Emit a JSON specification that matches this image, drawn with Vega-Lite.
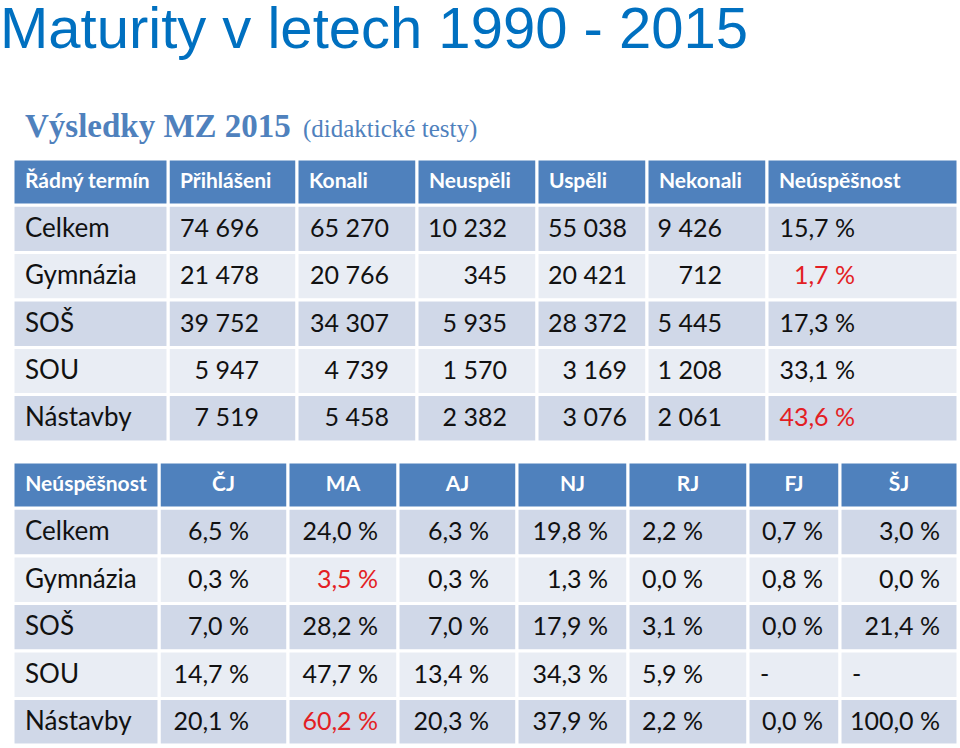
{
  "$schema": "https://vega.github.io/schema/vega-lite/v6.json",
  "width": 960,
  "height": 748,
  "padding": 0,
  "autosize": {"type": "none"},
  "background": "white",
  "config": {
    "view": {"stroke": null},
    "axis": {"disable": true},
    "locale": {"number": {"decimal": ",", "thousands": "\u00a0", "grouping": [3], "currency": ["", "\u00a0Kč"], "percent": "\u00a0%"}}
  },
  "datasets": {
    "nadpisy": [
      {"cast": "hlavni", "text": "Maturity v letech 1990 - 2015"},
      {"cast": "tucne", "text": "Výsledky MZ 2015"},
      {"cast": "zavorka", "text": "(didaktické testy)"}
    ],
    "souhrn": [
      {"skupina": "Celkem", "sloupec": "Přihlášeni", "v": 74696},
      {"skupina": "Celkem", "sloupec": "Konali", "v": 65270},
      {"skupina": "Celkem", "sloupec": "Neuspěli", "v": 10232},
      {"skupina": "Celkem", "sloupec": "Uspěli", "v": 55038},
      {"skupina": "Celkem", "sloupec": "Nekonali", "v": 9426},
      {"skupina": "Celkem", "sloupec": "Neúspěšnost", "v": 0.157},
      {"skupina": "Gymnázia", "sloupec": "Přihlášeni", "v": 21478},
      {"skupina": "Gymnázia", "sloupec": "Konali", "v": 20766},
      {"skupina": "Gymnázia", "sloupec": "Neuspěli", "v": 345},
      {"skupina": "Gymnázia", "sloupec": "Uspěli", "v": 20421},
      {"skupina": "Gymnázia", "sloupec": "Nekonali", "v": 712},
      {"skupina": "Gymnázia", "sloupec": "Neúspěšnost", "v": 0.017, "zv": true},
      {"skupina": "SOŠ", "sloupec": "Přihlášeni", "v": 39752},
      {"skupina": "SOŠ", "sloupec": "Konali", "v": 34307},
      {"skupina": "SOŠ", "sloupec": "Neuspěli", "v": 5935},
      {"skupina": "SOŠ", "sloupec": "Uspěli", "v": 28372},
      {"skupina": "SOŠ", "sloupec": "Nekonali", "v": 5445},
      {"skupina": "SOŠ", "sloupec": "Neúspěšnost", "v": 0.173},
      {"skupina": "SOU", "sloupec": "Přihlášeni", "v": 5947},
      {"skupina": "SOU", "sloupec": "Konali", "v": 4739},
      {"skupina": "SOU", "sloupec": "Neuspěli", "v": 1570},
      {"skupina": "SOU", "sloupec": "Uspěli", "v": 3169},
      {"skupina": "SOU", "sloupec": "Nekonali", "v": 1208},
      {"skupina": "SOU", "sloupec": "Neúspěšnost", "v": 0.331},
      {"skupina": "Nástavby", "sloupec": "Přihlášeni", "v": 7519},
      {"skupina": "Nástavby", "sloupec": "Konali", "v": 5458},
      {"skupina": "Nástavby", "sloupec": "Neuspěli", "v": 2382},
      {"skupina": "Nástavby", "sloupec": "Uspěli", "v": 3076},
      {"skupina": "Nástavby", "sloupec": "Nekonali", "v": 2061},
      {"skupina": "Nástavby", "sloupec": "Neúspěšnost", "v": 0.436, "zv": true}
    ],
    "predmety": [
      {"skupina": "Celkem", "sloupec": "ČJ", "v": 0.065},
      {"skupina": "Celkem", "sloupec": "MA", "v": 0.240},
      {"skupina": "Celkem", "sloupec": "AJ", "v": 0.063},
      {"skupina": "Celkem", "sloupec": "NJ", "v": 0.198},
      {"skupina": "Celkem", "sloupec": "RJ", "v": 0.022},
      {"skupina": "Celkem", "sloupec": "FJ", "v": 0.007},
      {"skupina": "Celkem", "sloupec": "ŠJ", "v": 0.030},
      {"skupina": "Gymnázia", "sloupec": "ČJ", "v": 0.003},
      {"skupina": "Gymnázia", "sloupec": "MA", "v": 0.035, "zv": true},
      {"skupina": "Gymnázia", "sloupec": "AJ", "v": 0.003},
      {"skupina": "Gymnázia", "sloupec": "NJ", "v": 0.013},
      {"skupina": "Gymnázia", "sloupec": "RJ", "v": 0.0},
      {"skupina": "Gymnázia", "sloupec": "FJ", "v": 0.008},
      {"skupina": "Gymnázia", "sloupec": "ŠJ", "v": 0.0},
      {"skupina": "SOŠ", "sloupec": "ČJ", "v": 0.070},
      {"skupina": "SOŠ", "sloupec": "MA", "v": 0.282},
      {"skupina": "SOŠ", "sloupec": "AJ", "v": 0.070},
      {"skupina": "SOŠ", "sloupec": "NJ", "v": 0.179},
      {"skupina": "SOŠ", "sloupec": "RJ", "v": 0.031},
      {"skupina": "SOŠ", "sloupec": "FJ", "v": 0.0},
      {"skupina": "SOŠ", "sloupec": "ŠJ", "v": 0.214},
      {"skupina": "SOU", "sloupec": "ČJ", "v": 0.147},
      {"skupina": "SOU", "sloupec": "MA", "v": 0.477},
      {"skupina": "SOU", "sloupec": "AJ", "v": 0.134},
      {"skupina": "SOU", "sloupec": "NJ", "v": 0.343},
      {"skupina": "SOU", "sloupec": "RJ", "v": 0.059},
      {"skupina": "SOU", "sloupec": "FJ", "v": null},
      {"skupina": "SOU", "sloupec": "ŠJ", "v": null},
      {"skupina": "Nástavby", "sloupec": "ČJ", "v": 0.201},
      {"skupina": "Nástavby", "sloupec": "MA", "v": 0.602, "zv": true},
      {"skupina": "Nástavby", "sloupec": "AJ", "v": 0.203},
      {"skupina": "Nástavby", "sloupec": "NJ", "v": 0.379},
      {"skupina": "Nástavby", "sloupec": "RJ", "v": 0.022},
      {"skupina": "Nástavby", "sloupec": "FJ", "v": 0.0},
      {"skupina": "Nástavby", "sloupec": "ŠJ", "v": 1.0}
    ]
  },
  "layer": [
    {
      "data": {"name": "nadpisy"},
      "transform": [{"calculate": "indexof(['hlavni','tucne','zavorka'], datum.cast)", "as": "k"}],
      "encoding": {
        "x": {"field": "k", "type": "quantitative", "scale": {"domain": [0, 1, 2], "range": [0, 25, 303], "nice": false, "zero": false}},
        "y": {"field": "k", "type": "quantitative", "scale": {"domain": [0, 1, 2], "range": [48, 137, 137], "nice": false, "zero": false}},
        "text": {"field": "text"}
      },
      "layer": [
        {"transform": [{"filter": "datum.cast == 'hlavni'"}], "mark": {"type": "text", "font": "Liberation Sans", "fontSize": 58, "color": "#0070C0", "align": "left", "baseline": "alphabetic"}},
        {"transform": [{"filter": "datum.cast == 'tucne'"}], "mark": {"type": "text", "font": "Liberation Serif", "fontSize": 33, "fontWeight": "bold", "color": "#4F81BD", "align": "left", "baseline": "alphabetic"}},
        {"transform": [{"filter": "datum.cast == 'zavorka'"}], "mark": {"type": "text", "font": "Liberation Serif", "fontSize": 25, "fontWeight": "normal", "color": "#4F81BD", "align": "left", "baseline": "alphabetic"}}
      ]
    },
    {
      "data": {"name": "souhrn"},
      "transform": [
        {"calculate": "indexof(['Přihlášeni','Konali','Neuspěli','Uspěli','Nekonali','Neúspěšnost'], datum.sloupec) + 1", "as": "c"},
        {"calculate": "datum.c + 1", "as": "c1"},
        {"calculate": "indexof(['Celkem','Gymnázia','SOŠ','SOU','Nástavby'], datum.skupina) + 1", "as": "r"},
        {"calculate": "datum.r + 1", "as": "r1"},
        {"calculate": "datum.r + 0.5", "as": "rm"}
      ],
      "layer": [
        {
          "layer": [
            {
              "mark": {"type": "rect", "stroke": "white", "strokeWidth": 3},
              "encoding": {
                "x": {"field": "c", "type": "quantitative", "scale": {"domain": [0, 1, 2, 3, 4, 5, 6, 7], "range": [13, 168, 297, 417, 537, 647, 767, 958], "nice": false, "zero": false}},
                "x2": {"field": "c1"},
                "y": {"field": "r", "type": "quantitative", "scale": {"domain": [0, 1, 2, 3, 4, 5, 6], "range": [159, 205, 252.5, 300, 347.5, 394.5, 442], "nice": false, "zero": false}},
                "y2": {"field": "r1"},
                "color": {"condition": {"test": "datum.r % 2 == 1", "value": "#D0D8E8"}, "value": "#E9EDF4"}
              }
            },
            {
              "transform": [{"filter": "datum.sloupec == 'Přihlášeni'"}],
              "mark": {"type": "rect", "stroke": "white", "strokeWidth": 3},
              "encoding": {
                "x": {"datum": 0, "type": "quantitative"},
                "x2": {"datum": 1},
                "y": {"field": "r", "type": "quantitative"},
                "y2": {"field": "r1"},
                "color": {"condition": {"test": "datum.r % 2 == 1", "value": "#D0D8E8"}, "value": "#E9EDF4"}
              }
            },
            {
              "transform": [{"filter": "datum.skupina == 'Celkem'"}],
              "mark": {"type": "rect", "stroke": "white", "strokeWidth": 3, "color": "#4F81BD"},
              "encoding": {
                "x": {"field": "c", "type": "quantitative"},
                "x2": {"field": "c1"},
                "y": {"datum": 0, "type": "quantitative"},
                "y2": {"datum": 1}
              }
            },
            {
              "transform": [{"filter": "datum.skupina == 'Celkem' && datum.sloupec == 'Přihlášeni'"}],
              "mark": {"type": "rect", "stroke": "white", "strokeWidth": 3, "color": "#4F81BD"},
              "encoding": {
                "x": {"datum": 0, "type": "quantitative"},
                "x2": {"datum": 1},
                "y": {"datum": 0, "type": "quantitative"},
                "y2": {"datum": 1}
              }
            },
            {
              "transform": [{"filter": "datum.skupina == 'Celkem'"}],
              "mark": {"type": "text", "align": "left", "baseline": "middle", "dx": 12, "font": "Lato", "fontWeight": "bold", "fontSize": 21, "color": "white"},
              "encoding": {
                "x": {"field": "c", "type": "quantitative"},
                "y": {"datum": 0.5, "type": "quantitative"},
                "text": {"field": "sloupec"}
              }
            },
            {
              "transform": [{"filter": "datum.skupina == 'Celkem' && datum.sloupec == 'Přihlášeni'"}],
              "mark": {"type": "text", "text": "Řádný termín", "align": "left", "baseline": "middle", "dx": 12, "font": "Lato", "fontWeight": "bold", "fontSize": 21, "color": "white"},
              "encoding": {
                "x": {"datum": 0, "type": "quantitative"},
                "y": {"datum": 0.5, "type": "quantitative"}
              }
            },
            {
              "transform": [{"filter": "datum.sloupec == 'Přihlášeni'"}],
              "mark": {"type": "text", "align": "left", "baseline": "middle", "dx": 12, "font": "Lato", "fontSize": 26, "color": "#111111"},
              "encoding": {
                "x": {"datum": 0, "type": "quantitative"},
                "y": {"field": "rm", "type": "quantitative"},
                "text": {"field": "skupina"}
              }
            }
          ]
        },
        {
          "encoding": {
            "x": {"field": "c", "type": "quantitative", "scale": {"domain": [1, 2, 3, 4, 5, 6], "range": [259, 389, 507, 627, 722, 855], "nice": false, "zero": false}},
            "y": {"field": "rm", "type": "quantitative"},
            "color": {"condition": {"test": "datum.zv", "value": "#E31E24"}, "value": "#111111"}
          },
          "layer": [
            {
              "transform": [{"filter": "datum.sloupec != 'Neúspěšnost'"}],
              "mark": {"type": "text", "align": "right", "baseline": "middle", "font": "Lato", "fontSize": 25},
              "encoding": {"text": {"field": "v", "type": "quantitative", "format": ",d"}}
            },
            {
              "transform": [{"filter": "datum.sloupec == 'Neúspěšnost'"}],
              "mark": {"type": "text", "align": "right", "baseline": "middle", "font": "Lato", "fontSize": 25},
              "encoding": {"text": {"field": "v", "type": "quantitative", "format": ".1%"}}
            }
          ]
        }
      ],
      "resolve": {"scale": {"x": "independent"}}
    },
    {
      "data": {"name": "predmety"},
      "transform": [
        {"calculate": "indexof(['ČJ','MA','AJ','NJ','RJ','FJ','ŠJ'], datum.sloupec) + 1", "as": "c"},
        {"calculate": "datum.c + 1", "as": "c1"},
        {"calculate": "datum.c + 0.5", "as": "cm"},
        {"calculate": "indexof(['Celkem','Gymnázia','SOŠ','SOU','Nástavby'], datum.skupina) + 1", "as": "r"},
        {"calculate": "datum.r + 1", "as": "r1"},
        {"calculate": "datum.r + 0.5", "as": "rm"}
      ],
      "layer": [
        {
          "layer": [
            {
              "mark": {"type": "rect", "stroke": "white", "strokeWidth": 3},
              "encoding": {
                "x": {"field": "c", "type": "quantitative", "scale": {"domain": [0, 1, 2, 3, 4, 5, 6, 7, 8], "range": [13, 159, 288, 398, 517, 628, 748, 840, 958], "nice": false, "zero": false}},
                "x2": {"field": "c1"},
                "y": {"field": "r", "type": "quantitative", "scale": {"domain": [0, 1, 2, 3, 4, 5, 6], "range": [462, 508, 556, 603.5, 651, 698.5, 745], "nice": false, "zero": false}},
                "y2": {"field": "r1"},
                "color": {"condition": {"test": "datum.r % 2 == 1", "value": "#D0D8E8"}, "value": "#E9EDF4"}
              }
            },
            {
              "transform": [{"filter": "datum.sloupec == 'ČJ'"}],
              "mark": {"type": "rect", "stroke": "white", "strokeWidth": 3},
              "encoding": {
                "x": {"datum": 0, "type": "quantitative"},
                "x2": {"datum": 1},
                "y": {"field": "r", "type": "quantitative"},
                "y2": {"field": "r1"},
                "color": {"condition": {"test": "datum.r % 2 == 1", "value": "#D0D8E8"}, "value": "#E9EDF4"}
              }
            },
            {
              "transform": [{"filter": "datum.skupina == 'Celkem'"}],
              "mark": {"type": "rect", "stroke": "white", "strokeWidth": 3, "color": "#4F81BD"},
              "encoding": {
                "x": {"field": "c", "type": "quantitative"},
                "x2": {"field": "c1"},
                "y": {"datum": 0, "type": "quantitative"},
                "y2": {"datum": 1}
              }
            },
            {
              "transform": [{"filter": "datum.skupina == 'Celkem' && datum.sloupec == 'ČJ'"}],
              "mark": {"type": "rect", "stroke": "white", "strokeWidth": 3, "color": "#4F81BD"},
              "encoding": {
                "x": {"datum": 0, "type": "quantitative"},
                "x2": {"datum": 1},
                "y": {"datum": 0, "type": "quantitative"},
                "y2": {"datum": 1}
              }
            },
            {
              "transform": [{"filter": "datum.skupina == 'Celkem'"}],
              "mark": {"type": "text", "align": "center", "baseline": "middle", "font": "Lato", "fontWeight": "bold", "fontSize": 21, "color": "white"},
              "encoding": {
                "x": {"field": "cm", "type": "quantitative"},
                "y": {"datum": 0.5, "type": "quantitative"},
                "text": {"field": "sloupec"}
              }
            },
            {
              "transform": [{"filter": "datum.skupina == 'Celkem' && datum.sloupec == 'ČJ'"}],
              "mark": {"type": "text", "text": "Neúspěšnost", "align": "center", "baseline": "middle", "font": "Lato", "fontWeight": "bold", "fontSize": 21, "color": "white"},
              "encoding": {
                "x": {"datum": 0.5, "type": "quantitative"},
                "y": {"datum": 0.5, "type": "quantitative"}
              }
            },
            {
              "transform": [{"filter": "datum.sloupec == 'ČJ'"}],
              "mark": {"type": "text", "align": "left", "baseline": "middle", "dx": 12, "font": "Lato", "fontSize": 26, "color": "#111111"},
              "encoding": {
                "x": {"datum": 0, "type": "quantitative"},
                "y": {"field": "rm", "type": "quantitative"},
                "text": {"field": "skupina"}
              }
            },
            {
              "transform": [{"filter": "datum.v == null"}],
              "mark": {"type": "text", "text": "-", "align": "left", "baseline": "middle", "dx": 12, "font": "Lato", "fontSize": 25, "color": "#111111"},
              "encoding": {
                "x": {"field": "c", "type": "quantitative"},
                "y": {"field": "rm", "type": "quantitative"}
              }
            }
          ]
        },
        {
          "transform": [{"filter": "datum.v != null"}],
          "mark": {"type": "text", "align": "right", "baseline": "middle", "font": "Lato", "fontSize": 25},
          "encoding": {
            "x": {"field": "c", "type": "quantitative", "scale": {"domain": [1, 2, 3, 4, 5, 6, 7], "range": [249, 378, 489, 608, 703, 823, 940], "nice": false, "zero": false}},
            "y": {"field": "rm", "type": "quantitative"},
            "text": {"field": "v", "type": "quantitative", "format": ".1%"},
            "color": {"condition": {"test": "datum.zv", "value": "#E31E24"}, "value": "#111111"}
          }
        }
      ],
      "resolve": {"scale": {"x": "independent"}}
    }
  ],
  "resolve": {"scale": {"x": "independent", "y": "independent"}}
}
